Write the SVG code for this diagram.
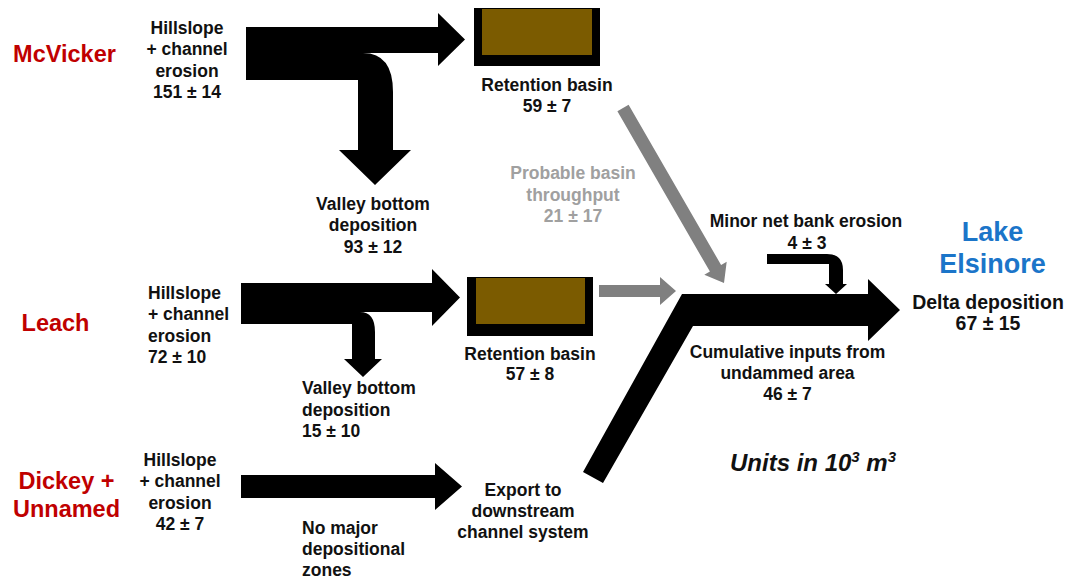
<svg xmlns="http://www.w3.org/2000/svg" width="1071" height="579" viewBox="0 0 1071 579">
<style>
  .t { font-family: "Liberation Sans", Arial, sans-serif; font-weight: bold; font-size: 17.5px; fill: #111; }
  .c { text-anchor: middle; }
  .red { fill: #C00000; font-size: 23.5px; }
  .blue { fill: #1B75C9; font-size: 27px; }
  .gray { fill: #A0A0A0; }
  .arrow { fill: #000; }
  .garrow { fill: #808080; }
  .basin { fill: #000; }
  .fill { fill: #7B5B00; }
</style>
<rect width="1071" height="579" fill="#fff"/>

<g id="connectors">
  <path class="arrow" d="M246,27 L438,27 L438,13 L465,39.5 L438,66 L438,53 L363,53 Q393,53 393,92 L393,150 L411,150 L375,185 L339,150 L358,150 L358,80 L246,80 Z"/>
  <path class="arrow" d="M241,283 L432,283 L432,269 L460,297.5 L432,326 L432,312 L360,312 Q375,312 375,332 L375,359 L382,359 L363,377 L344,359 L352,359 L352,324 L241,324 Z"/>
  <path class="arrow" d="M241,475 L435,475 L435,463 L462,486.5 L435,510 L435,498 L241,498 Z"/>
  <path class="arrow" d="M682,294 L868,294 L868,279 L900,310 L868,341 L868,326 L693,326 L603,483 L583,472 Z"/>
  <path class="arrow" d="M767,254 L827,254 Q843,254 843,270 L843,284 L847,284 L836,294 L825,284 L829,284 L829,264 L767,264 Z"/>
  <path class="garrow" d="M599,285 L660,285 L660,277 L676,291 L660,305 L660,297 L599,297 Z"/>
  <path class="garrow" d="M628.6,104.7 L721.1,265 L726.7,261.8 L724,283 L704.3,274.8 L709.9,271.6 L617.4,111.3 Z"/>
</g>

<g id="mcvicker">
  <text class="t red c" x="64.5" y="61.5">McVicker</text>
  <text class="t c" x="187" y="33.5">Hillslope</text>
  <text class="t c" x="187" y="55">+ channel</text>
  <text class="t c" x="187" y="76.5">erosion</text>
  <text class="t c" x="187" y="98">151 ± 14</text>
</g>
<g id="mcvicker-valley">
  <text class="t c" x="373" y="209.5">Valley bottom</text>
  <text class="t c" x="373" y="231">deposition</text>
  <text class="t c" x="373" y="252.5">93 ± 12</text>
</g>
<g id="basin1">
  <rect class="basin" x="474" y="8" width="126" height="58"/>
  <rect class="fill" x="482" y="9" width="110" height="46"/>
  <text class="t c" x="547" y="90.5">Retention basin</text>
  <text class="t c" x="547" y="112">59 ± 7</text>
</g>
<g id="throughput">
  <text class="t c gray" x="573" y="179">Probable basin</text>
  <text class="t c gray" x="573" y="200.5">throughput</text>
  <text class="t c gray" x="573" y="222">21 ± 17</text>
</g>
<g id="bank">
  <text class="t c" x="806" y="227">Minor net bank erosion</text>
  <text class="t c" x="807" y="248.5">4 ± 3</text>
</g>
<g id="lake">
  <text class="t blue c" x="992.5" y="241">Lake</text>
  <text class="t blue c" x="992.5" y="273">Elsinore</text>
  <text class="t c" x="988" y="309" style="font-size:19.5px">Delta deposition</text>
  <text class="t c" x="988" y="330" style="font-size:19.5px">67 ± 15</text>
</g>
<g id="leach">
  <text class="t red c" x="55.5" y="331">Leach</text>
  <text class="t" x="148" y="298.5">Hillslope</text>
  <text class="t" x="148" y="320">+ channel</text>
  <text class="t" x="148" y="341.5">erosion</text>
  <text class="t" x="148" y="363">72 ± 10</text>
</g>
<g id="leach-valley">
  <text class="t" x="302" y="394">Valley bottom</text>
  <text class="t" x="302" y="415.5">deposition</text>
  <text class="t" x="302" y="437">15 ± 10</text>
</g>
<g id="basin2">
  <rect class="basin" x="467" y="277" width="126" height="59"/>
  <rect class="fill" x="476" y="278" width="109" height="46"/>
  <text class="t c" x="530" y="359.5">Retention basin</text>
  <text class="t c" x="530" y="380">57 ± 8</text>
</g>
<g id="cumulative">
  <text class="t c" x="787.5" y="358">Cumulative inputs from</text>
  <text class="t c" x="787.5" y="379">undammed area</text>
  <text class="t c" x="787.5" y="400">46 ± 7</text>
</g>
<g id="dickey">
  <text class="t red c" x="66.5" y="488.5">Dickey +</text>
  <text class="t red c" x="66.5" y="516.5">Unnamed</text>
  <text class="t c" x="180" y="465.5">Hillslope</text>
  <text class="t c" x="180" y="487">+ channel</text>
  <text class="t c" x="180" y="508.5">erosion</text>
  <text class="t c" x="180" y="530">42 ± 7</text>
</g>
<g id="nomajor">
  <text class="t" x="302" y="534">No major</text>
  <text class="t" x="302" y="555">depositional</text>
  <text class="t" x="302" y="575.5">zones</text>
</g>
<g id="export">
  <text class="t c" x="523" y="496">Export to</text>
  <text class="t c" x="523" y="517">downstream</text>
  <text class="t c" x="523" y="538">channel system</text>
</g>
<g id="units">
  <text class="t" x="730" y="471" style="font-size:24px;font-style:italic">Units in 10<tspan style="font-size:15px" dy="-9">3</tspan><tspan dy="9"> m</tspan><tspan style="font-size:15px" dy="-9">3</tspan></text>
</g>
</svg>
